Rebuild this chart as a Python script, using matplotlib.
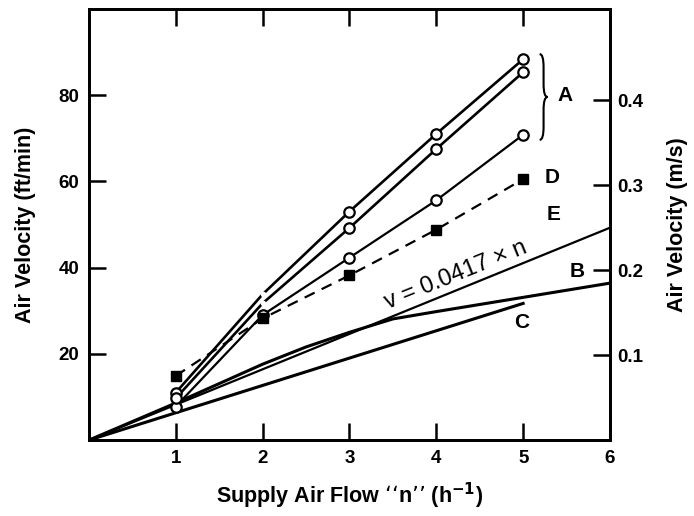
import numpy as np
import matplotlib.pyplot as plt
from matplotlib.path import Path
from matplotlib.patches import PathPatch

plt.rcParams['font.family'] = ['Liberation Sans', 'DejaVu Sans']
plt.rcParams['font.weight'] = 'bold'

# air velocity in ft/min against supply air flow n (1/h)
n_pts = [1, 2, 3, 4, 5]
a1 = [11.0, 33.8, 53.0, 71.0, 88.3]
a2 = [9.7, 31.7, 49.2, 67.5, 85.3]
a3 = [7.8, 29.0, 42.3, 55.6, 70.8]
d_sq = [14.9, 28.2, 38.2, 48.8, 60.5]

n_b = [0, 1, 2, 2.5, 3, 3.5, 4, 5, 6]
b_curve = [0, 8.6, 17.6, 21.6, 25.0, 28.1, 29.8, 33.1, 36.4]
n_c = [0, 5]
c_line = [0, 31.7]
n_e = [0, 6]
e_slope = 0.0417          # m/s per 1/h
FT_PER_MIN = 196.85       # ft/min per m/s

fig = plt.figure(figsize=(6.94, 5.16), dpi=100)
ax = fig.add_axes([0.128, 0.147, 0.751, 0.836])

lw = 1.9
e_line = [e_slope * v * FT_PER_MIN for v in n_e]
ax.plot(n_e, e_line, color='black', lw=1.6)
ax.plot(n_b, b_curve, color='black', lw=2.2)
ax.plot(n_c, c_line, color='black', lw=2.2)

for ys in (a1, a2):
    ax.plot(n_pts, ys, color='black', lw=lw, zorder=3)
    ax.plot(n_pts[1], ys[1], 'o', ms=4, mfc='white', mec='none', zorder=4)
    ax.plot([n_pts[i] for i in (0, 2, 3, 4)], [ys[i] for i in (0, 2, 3, 4)],
            'o', ms=7.5, mfc='white', mec='black', mew=1.6, zorder=5)
ax.plot(n_pts, a3, color='black', lw=1.6, marker='o', ms=7.5,
        mfc='white', mec='black', mew=1.6, zorder=3)
ax.plot(n_pts, d_sq, color='black', lw=1.6, ls=(0, (5, 3.5)), marker='s',
        ms=7.5, mfc='black', mec='black', zorder=3)

# curly brace grouping the three A curves
top, bot = a1[-1] + 1.2, a3[-1] - 1.2
mid = (top + bot) / 2
x0, w, d = n_pts[-1] + 0.19, 0.09, 3.0
xm = x0 + w / 2
verts = [(x0, top), (xm, top), (xm, top - d), (xm, mid + d), (xm, mid), (x0 + w, mid),
         (xm, mid), (xm, mid - d), (xm, bot + d), (xm, bot), (x0, bot)]
codes = [Path.MOVETO, Path.CURVE3, Path.CURVE3, Path.LINETO, Path.CURVE3, Path.CURVE3,
         Path.CURVE3, Path.CURVE3, Path.LINETO, Path.CURVE3, Path.CURVE3]
ax.add_patch(PathPatch(Path(verts, codes), fc='none', ec='black', lw=1.5))

ax.set_xlim(0, 6)
ax.set_ylim(0, 100)
ax.set_xticks([1, 2, 3, 4, 5, 6])
ax.set_yticks([20, 40, 60, 80])
ax.tick_params(direction='in', length=12, width=1.8, labelsize=13.5, pad=7,
               top=True)
for s in ax.spines.values():
    s.set_linewidth(2)

ax2 = ax.twinx()
ax2.set_ylim(0, 100 / FT_PER_MIN)
ax2.set_yticks([0.1, 0.2, 0.3, 0.4])
ax2.set_yticklabels(['0.1', '0.2', '0.3', '0.4'])
ax2.tick_params(direction='in', length=12, width=1.8, labelsize=13.5, pad=5)
for s in ax2.spines.values():
    s.set_linewidth(2)

ax.set_xlabel('Supply Air Flow \u2018\u2018n\u2019\u2019 (h$^{\\mathbf{-1}}$)', fontsize=15.5,
              fontweight='bold', labelpad=10)
ax.set_ylabel('Air Velocity (ft/min)', fontsize=15.5, fontweight='bold', labelpad=16)
ax2.set_ylabel('Air Velocity (m/s)', fontsize=15.5, fontweight='bold', labelpad=17)

ax.text(5.48, 80, 'A', fontsize=15, ha='center', va='center')
ax.text(5.33, 61, 'D', fontsize=15, ha='center', va='center')
ax.text(5.35, 52.3, 'E', fontsize=15, ha='center', va='center')
ax.text(5.62, 39, 'B', fontsize=15, ha='center', va='center')
ax.text(4.98, 27.3, 'C', fontsize=15, ha='center', va='center')
ax.text(4.22, 38.2, 'v = 0.0417 \u00d7 n', fontsize=17, fontweight='medium',
        rotation=22, ha='center', va='center')

fig.savefig('out.png', dpi=100)
